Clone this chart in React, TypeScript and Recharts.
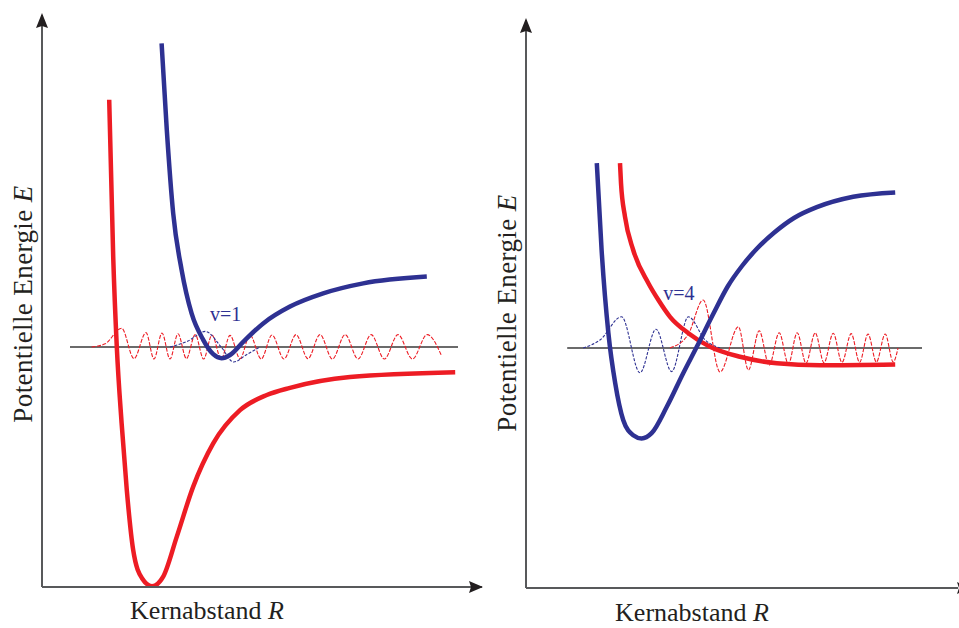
import { LineChart, Line, XAxis, YAxis, ReferenceLine, ReferenceDot, Label } from "recharts"

const RED = "#ed1c24"
const BLUE = "#2e3192"
const INK = "#231f20"
const AXIS = "#58595b"
const FONT = "'Liberation Serif', 'Times New Roman', serif"

// left panel: R in arbitrary units, E relative to the dissociation line (E = 0)
const leftRedPotential = [
  { r: 1.68, e: 6.18 }, { r: 1.78, e: 2.26 }, { r: 1.87, e: 0.0 }, { r: 1.99, e: -1.9 },
  { r: 2.12, e: -3.58 }, { r: 2.28, e: -5.08 }, { r: 2.5, e: -5.78 }, { r: 2.75, e: -5.98 },
  { r: 3.03, e: -5.74 }, { r: 3.37, e: -4.74 }, { r: 3.78, e: -3.49 }, { r: 4.28, e: -2.41 },
  { r: 4.95, e: -1.58 }, { r: 5.62, e: -1.2 }, { r: 6.2, e: -1.02 }, { r: 7.7, e: -0.75 },
  { r: 10.33, e: -0.63 },
]

const leftBluePotential = [
  { r: 2.99, e: 7.59 }, { r: 3.12, e: 5.43 }, { r: 3.28, e: 3.34 }, { r: 3.49, e: 1.93 },
  { r: 3.74, e: 0.84 }, { r: 4.03, e: 0.18 }, { r: 4.28, e: -0.18 }, { r: 4.49, e: -0.28 },
  { r: 4.7, e: -0.2 }, { r: 5.03, e: 0.13 }, { r: 5.53, e: 0.59 }, { r: 6.2, e: 1.01 },
  { r: 7.03, e: 1.34 }, { r: 8.03, e: 1.59 }, { r: 9.62, e: 1.76 },
]

const leftRedWave = [
  { r: 1.24, e: 0 }, { r: 1.58, e: 0.08 }, { r: 1.99, e: 0.47 }, { r: 2.3, e: -0.29 },
  { r: 2.6, e: 0.36 }, { r: 2.8, e: -0.3 }, { r: 3.0, e: 0.35 }, { r: 3.2, e: -0.3 },
  { r: 3.4, e: 0.33 }, { r: 3.61, e: -0.29 }, { r: 3.83, e: 0.31 }, { r: 4.04, e: -0.3 },
  { r: 4.25, e: 0.3 }, { r: 4.48, e: -0.3 }, { r: 4.7, e: 0.29 }, { r: 4.95, e: -0.29 },
  { r: 5.2, e: 0.3 }, { r: 5.48, e: -0.3 }, { r: 5.75, e: 0.3 }, { r: 6.05, e: -0.3 },
  { r: 6.35, e: 0.31 }, { r: 6.65, e: -0.29 }, { r: 6.95, e: 0.31 }, { r: 7.26, e: -0.3 },
  { r: 7.58, e: 0.31 }, { r: 7.9, e: -0.3 }, { r: 8.23, e: 0.31 }, { r: 8.56, e: -0.3 },
  { r: 8.9, e: 0.31 }, { r: 9.26, e: -0.3 }, { r: 9.63, e: 0.31 }, { r: 9.98, e: -0.2 },
]

const leftBlueWave = [
  { r: 3.2, e: 0 }, { r: 3.65, e: 0.15 }, { r: 4.08, e: 0.39 }, { r: 4.48, e: 0 },
  { r: 4.79, e: -0.375 }, { r: 5.13, e: -0.18 }, { r: 5.45, e: 0 },
]

// right panel
const rightBluePotential = [
  { r: 1.77, e: 4.62 }, { r: 1.89, e: 2.45 }, { r: 2.06, e: 0.37 }, { r: 2.23, e: -0.88 },
  { r: 2.43, e: -1.8 }, { r: 2.68, e: -2.18 }, { r: 2.89, e: -2.26 }, { r: 3.14, e: -2.13 },
  { r: 3.52, e: -1.47 }, { r: 3.93, e: -0.63 }, { r: 4.27, e: 0.03 }, { r: 4.68, e: 0.85 },
  { r: 5.05, e: 1.55 }, { r: 5.4, e: 2.05 }, { r: 5.77, e: 2.48 }, { r: 6.2, e: 2.88 },
  { r: 6.7, e: 3.25 }, { r: 7.27, e: 3.52 }, { r: 8.18, e: 3.78 }, { r: 9.23, e: 3.89 },
]

const rightRedPotential = [
  { r: 2.35, e: 4.62 }, { r: 2.375, e: 4.12 }, { r: 2.475, e: 3.28 }, { r: 2.68, e: 2.45 },
  { r: 3.06, e: 1.62 }, { r: 3.31, e: 1.2 }, { r: 3.6, e: 0.78 }, { r: 4.06, e: 0.37 },
  { r: 4.6, e: 0.03 }, { r: 5.35, e: -0.22 }, { r: 6.27, e: -0.38 }, { r: 7.35, e: -0.43 },
  { r: 9.23, e: -0.41 },
]

const rightBlueWave = [
  { r: 1.43, e: 0 }, { r: 1.85, e: 0.2 }, { r: 2.39, e: 0.78 }, { r: 2.85, e: -0.62 },
  { r: 3.25, e: 0.47 }, { r: 3.64, e: -0.59 }, { r: 4.06, e: 0.78 }, { r: 4.48, e: 0.2 },
  { r: 4.85, e: 0 },
]

const rightRedWave = [
  { r: 3.6, e: 0 }, { r: 4.05, e: 0.33 }, { r: 4.43, e: 1.2 }, { r: 4.85, e: -0.6 },
  { r: 5.31, e: 0.53 }, { r: 5.56, e: -0.55 }, { r: 5.83, e: 0.43 }, { r: 6.08, e: -0.43 },
  { r: 6.33, e: 0.38 }, { r: 6.56, e: -0.4 }, { r: 6.78, e: 0.38 }, { r: 7.0, e: -0.38 },
  { r: 7.23, e: 0.38 }, { r: 7.45, e: -0.37 }, { r: 7.68, e: 0.37 }, { r: 7.9, e: -0.36 },
  { r: 8.13, e: 0.36 }, { r: 8.34, e: -0.36 }, { r: 8.55, e: 0.35 }, { r: 8.76, e: -0.35 },
  { r: 8.98, e: 0.35 }, { r: 9.18, e: -0.35 }, { r: 9.3, e: 0 },
]

const arrowUp = (p: any) => (
  <path d={`M${p.cx},${p.cy - 2} L${p.cx - 6},${p.cy + 13} L${p.cx},${p.cy + 11} L${p.cx + 6},${p.cy + 13} Z`} fill={INK} />
)
const arrowRight = (p: any) => (
  <path d={`M${p.cx + 1},${p.cy} L${p.cx - 13},${p.cy - 6} L${p.cx - 11},${p.cy} L${p.cx - 13},${p.cy + 6} Z`} fill={INK} />
)
// the right panel's arrow runs off the edge of the figure
const arrowRightCut = (p: any) => (
  <path d={`M${p.cx + 12},${p.cy} L${p.cx - 1},${p.cy - 6} L${p.cx + 1},${p.cy} L${p.cx - 1},${p.cy + 6} Z`} fill={INK} />
)

const levelText = (txt: string) => (p: any) => (
  <text x={p.cx} y={p.cy} fontFamily={FONT} fontSize={20} fill={BLUE}>{txt}</text>
)

const xTitle = (dx: number, dy: number) => (p: any) => {
  const vb = p.viewBox
  return (
    <text x={vb.x + vb.width / 2 + dx} y={vb.y + dy} textAnchor="middle" fontFamily={FONT} fontSize={26} fill={INK}>
      Kernabstand <tspan fontStyle="italic">R</tspan>
    </text>
  )
}

const yTitle = (dy: number) => (p: any) => {
  const vb = p.viewBox
  const cx = vb.x + 23
  const cy = vb.y + vb.height / 2 + dy
  return (
    <text x={cx} y={cy} transform={`rotate(-90, ${cx}, ${cy})`} textAnchor="middle" dominantBaseline="central" fontFamily={FONT} fontSize={27} letterSpacing={0.4} fill={INK}>
      Potentielle Energie <tspan fontStyle="italic">E</tspan>
    </text>
  )
}

const thick = { type: "monotone" as const, dataKey: "e", dot: false, isAnimationActive: false, strokeWidth: 4.5 }
const thin = { type: "monotone" as const, dataKey: "e", dot: false, isAnimationActive: false, strokeWidth: 1.1 }

export default function App() {
  return (
    <div style={{ position: "absolute", left: 0, top: 0, width: 959, height: 628, background: "#fff", overflow: "hidden" }}>
      <div style={{ position: "absolute", left: 0, top: 0 }}>
        <LineChart width={490} height={628} margin={{ top: 15, right: 8, bottom: 0, left: 0 }}>
          <XAxis dataKey="r" type="number" domain={[0, 11]} allowDataOverflow tick={false} tickLine={false} height={41} axisLine={{ stroke: AXIS, strokeWidth: 2 }}>
            <Label content={xTitle(-55, 32)} />
          </XAxis>
          <YAxis type="number" domain={[-6, 8.3]} allowDataOverflow tick={false} tickLine={false} width={42} axisLine={{ stroke: AXIS, strokeWidth: 2 }}>
            <Label content={yTitle(3)} />
          </YAxis>
          <ReferenceLine segment={[{ x: 0.7, y: 0 }, { x: 10.4, y: 0 }]} stroke="#3a3a3a" strokeWidth={1.3} ifOverflow="visible" />
          <Line {...thin} data={leftRedWave} stroke={RED} strokeDasharray="4 1.5" />
          <Line {...thin} data={leftBlueWave} stroke={BLUE} strokeDasharray="3 1.5" />
          <Line {...thick} data={leftRedPotential} stroke={RED} />
          <Line {...thick} data={leftBluePotential} stroke={BLUE} />
          <ReferenceDot x={4.2} y={0.65} r={0} ifOverflow="visible" shape={levelText("v=1")} />
          <ReferenceDot x={0} y={8.3} r={0} ifOverflow="visible" shape={arrowUp} />
          <ReferenceDot x={11} y={-6} r={0} ifOverflow="visible" shape={arrowRight} />
        </LineChart>
      </div>
      <div style={{ position: "absolute", left: 484, top: 0 }}>
        <LineChart width={475} height={628} margin={{ top: 20, right: 1, bottom: 0, left: 0 }}>
          <XAxis dataKey="r" type="number" domain={[0, 10.8]} allowDataOverflow tick={false} tickLine={false} height={40} axisLine={{ stroke: AXIS, strokeWidth: 2 }}>
            <Label content={xTitle(-50, 33)} />
          </XAxis>
          <YAxis type="number" domain={[-6, 8.2]} allowDataOverflow tick={false} tickLine={false} width={42} axisLine={{ stroke: AXIS, strokeWidth: 2 }}>
            <Label content={yTitle(9)} />
          </YAxis>
          <ReferenceLine segment={[{ x: 1.03, y: 0 }, { x: 9.9, y: 0 }]} stroke="#3a3a3a" strokeWidth={1.3} ifOverflow="visible" />
          <Line {...thin} data={rightBlueWave} stroke={BLUE} strokeDasharray="3 1.5" />
          <Line {...thin} data={rightRedWave} stroke={RED} strokeDasharray="4 1.5" />
          <Line {...thick} data={rightRedPotential} stroke={RED} />
          <Line {...thick} data={rightBluePotential} stroke={BLUE} />
          <ReferenceDot x={3.43} y={1.2} r={0} ifOverflow="visible" shape={levelText("v=4")} />
          <ReferenceDot x={0} y={8.2} r={0} ifOverflow="visible" shape={arrowUp} />
          <ReferenceDot x={10.8} y={-6} r={0} ifOverflow="visible" shape={arrowRightCut} />
        </LineChart>
      </div>
    </div>
  )
}
